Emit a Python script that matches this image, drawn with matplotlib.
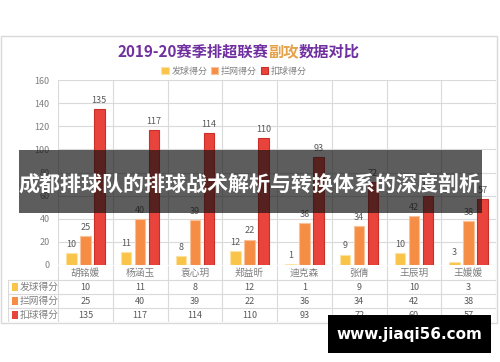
import matplotlib
matplotlib.use('Agg')
import matplotlib.pyplot as plt
from matplotlib.patches import Rectangle
import numpy as np

plt.rcParams['font.family'] = ['Noto Sans CJK SC', 'DejaVu Sans']

players = ['胡铭媛', '杨涵玉', '袁心玥', '郑益昕', '迪克森', '张倩', '王辰玥', '王媛媛']
serve = [10, 11, 8, 12, 1, 9, 10, 3]
block = [25, 40, 39, 22, 36, 34, 42, 38]
attack = [135, 117, 114, 110, 93, 72, 60, 57]
series_names = ['发球得分', '拦网得分', '扣球得分']
yticks = [0, 20, 40, 60, 80, 100, 120, 140, 160]

colors = ['#FAC448', '#F68D45', '#E8443C']
edges = ['#FBE3A6', '#F9C29A', '#C9302A']
grid_c = '#DADADA'
txt_c = '#7F7F7F'

W, H = 500, 362
fig = plt.figure(figsize=(W / 100, H / 100), dpi=100)

def fx(px):
    return px / W

def fy(py):
    return 1 - py / H

# chart border
fig.patches.append(Rectangle((fx(1), fy(323)), fx(496), (323 - 36) / H,
                             transform=fig.transFigure, fill=False,
                             edgecolor='#D9D9D9', lw=1, zorder=0.1))

# main plot
ax = fig.add_axes([fx(58), fy(265), fx(496 - 58), (265 - 80) / H])
ax.set_facecolor('none')
x = np.arange(len(players))
step = 0.255
bw = 0.19
data = [serve, block, attack]
for i, (vals, name) in enumerate(zip(data, series_names)):
    bars = ax.bar(x + (i - 1) * step, vals, bw, color=colors[i],
                  edgecolor=edges[i], linewidth=0.8, label=name, zorder=3)
    ax.bar_label(bars, padding=3, fontsize=6.5, color='#595959')

ax.set_xlim(-0.5, len(players) - 0.5)
ax.set_ylim(0, 160)
ax.set_yticks(yticks)
ax.set_xticks([])
for v in yticks:
    ax.axhline(v, color=grid_c, lw=0.8, zorder=1)
for b in np.arange(-0.5, len(players), 1.0):
    ax.axvline(b, color=grid_c, lw=0.8, zorder=1)
for s in ax.spines.values():
    s.set_visible(False)
ax.tick_params(axis='y', length=0, pad=6, labelsize=6.5, labelcolor=txt_c)

# data table
left_w = 50 / 54.75
tax = fig.add_axes([fx(8), fy(322), fx(496 - 8), (322 - 266) / H])
tax.set_xlim(-0.5 - left_w, len(players) - 0.5)
tax.set_ylim(4, 0)
tax.axis('off')
x0 = -0.5 - left_w
for r in [1, 2, 3, 4]:
    tax.plot([x0, len(players) - 0.5], [r, r], color=grid_c, lw=0.8)
tax.plot([x0, x0], [1, 4], color=grid_c, lw=0.8)
for b in np.arange(-0.5, len(players), 1.0):
    tax.plot([b, b], [0, 4], color=grid_c, lw=0.8)
for j, name in enumerate(players):
    tax.text(j, 0.5, name, ha='center', va='center', fontsize=7, color=txt_c)
for i, vals in enumerate(data):
    for j, v in enumerate(vals):
        tax.text(j, i + 1.5, str(v), ha='center', va='center', fontsize=6.5, color='#595959')
    tax.add_patch(Rectangle((x0 + 0.07, i + 1.22), 0.12, 0.56, color=colors[i], lw=0))
    tax.text(x0 + 0.22, i + 1.5, series_names[i], ha='left', va='center',
             fontsize=7, color=txt_c)

# title in two colours
renderer = fig.canvas.get_renderer()
pieces = [('2019-20赛季排超联赛', '#7030A0'), ('副攻', '#E4A24A'), ('数据对比', '#7030A0')]
cur = fx(117)
for s, c in pieces:
    t = fig.text(cur, fy(52), s, ha='left', va='center', fontsize=11,
                 fontweight='bold', color=c)
    bb = t.get_window_extent(renderer)
    cur += bb.width / W

# legend
fig.legend(loc='center', bbox_to_anchor=(fx(234), fy(71)), ncol=3, frameon=False,
           fontsize=6.5, labelcolor=txt_c, handlelength=0.8, handleheight=0.8,
           handletextpad=0.3, columnspacing=0.4)

# overlay banner
fig.patches.append(Rectangle((fx(19), fy(213)), fx(482 - 19), (213 - 150) / H,
                             transform=fig.transFigure, color='#111111',
                             alpha=0.68, lw=0, zorder=5))
fig.text(fx(249), fy(184), '成都排球队的排球战术解析与转换体系的深度剖析',
         ha='center', va='center', fontsize=15.1, fontweight='bold',
         color='white', zorder=6)

# watermark
fig.patches.append(Rectangle((fx(328), fy(353)), fx(491 - 328), (353 - 315) / H,
                             transform=fig.transFigure, color='black', lw=0, zorder=5))
fig.text(fx(409), fy(334), 'www.jiaqi56.com', ha='center', va='center',
         fontsize=11, fontweight='bold', color='white', family='DejaVu Sans', zorder=6)

fig.savefig('out.png', dpi=100)
